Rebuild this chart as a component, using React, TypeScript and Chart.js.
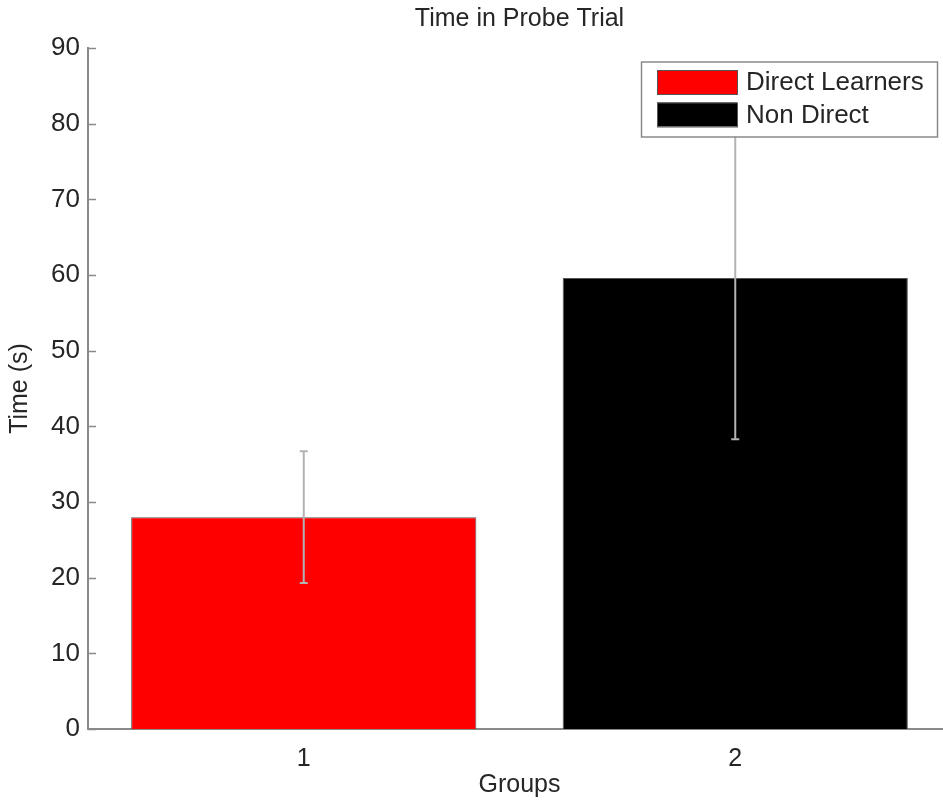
import React, { useEffect, useRef } from 'react';
import { Chart, registerables } from 'chart.js';

Chart.register(...registerables);

const categories = ['1', '2'];
const seriesNames = ['Direct Learners', 'Non Direct'];
const directValues = [28.0, null];
const nonDirectValues = [null, 59.6];
const directErrors = [8.7, null];
const nonDirectErrors = [null, 21.3];
const yTickValues = [0, 10, 20, 30, 40, 50, 60, 70, 80, 90];
const chartTitle = 'Time in Probe Trial';
const xTitle = 'Groups';
const yTitle = 'Time (s)';

const FONT = "'Liberation Sans', Arial, Helvetica, sans-serif";
const TEXT = '#262626';
const AXIS = '#8a8a8a';

const errorBarPlugin = {
  id: 'errorBars',
  afterDatasetsDraw(chart: any) {
    const ctx = chart.ctx;
    const yScale = chart.scales.y;
    const errs = [directErrors, nonDirectErrors];
    ctx.save();
    ctx.strokeStyle = '#b3b3b3';
    ctx.lineWidth = 2;
    chart.data.datasets.forEach((ds: any, di: number) => {
      const meta = chart.getDatasetMeta(di);
      meta.data.forEach((el: any, i: number) => {
        const v = ds.data[i];
        const e = errs[di][i];
        if (v == null || e == null) return;
        const x = el.x;
        const yTop = yScale.getPixelForValue(v + e);
        const yBot = yScale.getPixelForValue(v - e);
        ctx.beginPath();
        ctx.moveTo(x, yTop);
        ctx.lineTo(x, yBot);
        ctx.moveTo(x - 4, yTop);
        ctx.lineTo(x + 4, yTop);
        ctx.moveTo(x - 4, yBot);
        ctx.lineTo(x + 4, yBot);
        ctx.stroke();
      });
    });
    // inward y ticks
    const left = chart.chartArea.left;
    ctx.strokeStyle = AXIS;
    ctx.lineWidth = 1.5;
    yTickValues.forEach((t) => {
      const y = Math.round(yScale.getPixelForValue(t)) + 0.5;
      ctx.beginPath();
      ctx.moveTo(left, y);
      ctx.lineTo(left + 8, y);
      ctx.stroke();
    });
    ctx.restore();
  },
  afterDraw(chart: any) {
    const ctx = chart.ctx;
    ctx.save();
    // title centred over plot area
    const ca = chart.chartArea;
    ctx.fillStyle = TEXT;
    ctx.font = `25px ${FONT}`;
    ctx.textAlign = 'center';
    ctx.textBaseline = 'middle';
    ctx.fillText(chartTitle, (ca.left + ca.right) / 2, 19);
    // legend
    const bx = 641, by = 61.5, bw = 296, bh = 75;
    ctx.fillStyle = '#ffffff';
    ctx.fillRect(bx, by, bw, bh);
    ctx.strokeStyle = '#8a8a8a';
    ctx.lineWidth = 1.5;
    ctx.strokeRect(bx + 0.5, by + 0.5, bw, bh);
    ctx.font = `26px ${FONT}`;
    ctx.textBaseline = 'middle';
    ctx.textAlign = 'left';
    chart.data.datasets.forEach((ds: any, i: number) => {
      const sy = 70 + i * 32.5;
      ctx.fillStyle = ds.backgroundColor;
      ctx.fillRect(657, sy, 80, 24);
      ctx.strokeStyle = '#555555';
      ctx.lineWidth = 1;
      ctx.strokeRect(657.5, sy + 0.5, 80, 24);
      ctx.fillStyle = TEXT;
      ctx.fillText(ds.label, 746, sy + 13);
    });
    ctx.restore();
  },
};

export default function App() {
  const ref = useRef<HTMLCanvasElement>(null);
  useEffect(() => {
    if (!ref.current) return;
    const chart = new Chart(ref.current, {
      type: 'bar',
      data: {
        labels: categories,
        datasets: [
          {
            label: seriesNames[0],
            data: directValues as any,
            backgroundColor: '#ff0000',
            borderColor: '#555555',
            borderWidth: 1,
            grouped: false,
            categoryPercentage: 1,
            barPercentage: 0.8,
          } as any,
          {
            label: seriesNames[1],
            data: nonDirectValues as any,
            backgroundColor: '#000000',
            borderColor: '#555555',
            borderWidth: 1,
            grouped: false,
            categoryPercentage: 1,
            barPercentage: 0.8,
          } as any,
        ],
      },
      options: {
        animation: false,
        responsive: false,
        maintainAspectRatio: false,
        layout: { padding: { top: 48, left: 0, right: 0, bottom: 0 } },
        plugins: {
          legend: { display: false },
          tooltip: { enabled: false },
          title: { display: false },
        },
        scales: {
          x: {
            offset: true,
            grid: { display: false, drawTicks: false },
            border: { display: true, color: AXIS, width: 2 },
            ticks: {
              color: TEXT,
              font: { family: FONT, size: 25 },
              padding: 15,
            },
            title: {
              display: true,
              text: xTitle,
              color: TEXT,
              font: { family: FONT, size: 25 },
              padding: { top: 0, bottom: 2 },
            },
            afterFit(scale: any) {
              scale.height = 73;
            },
          },
          y: {
            min: 0,
            max: 90,
            grid: { display: false, drawTicks: false },
            border: { display: true, color: AXIS, width: 2 },
            afterBuildTicks(scale: any) {
              scale.ticks = yTickValues.map((v) => ({ value: v }));
            },
            ticks: {
              color: TEXT,
              font: { family: FONT, size: 26 },
              padding: 8,
            },
            title: {
              display: true,
              text: yTitle,
              color: TEXT,
              font: { family: FONT, size: 25 },
              padding: { top: 5, bottom: 0 },
            },
            afterFit(scale: any) {
              scale.width = 88;
            },
          },
        },
      },
      plugins: [errorBarPlugin],
    });
    return () => chart.destroy();
  }, []);
  return (
    <div style={{ position: 'absolute', left: 0, top: 0, width: 943, height: 802, overflow: 'hidden', background: '#fff' }}>
      <canvas ref={ref} width={951} height={802} style={{ width: 951, height: 802, display: 'block' }} />
    </div>
  );
}
